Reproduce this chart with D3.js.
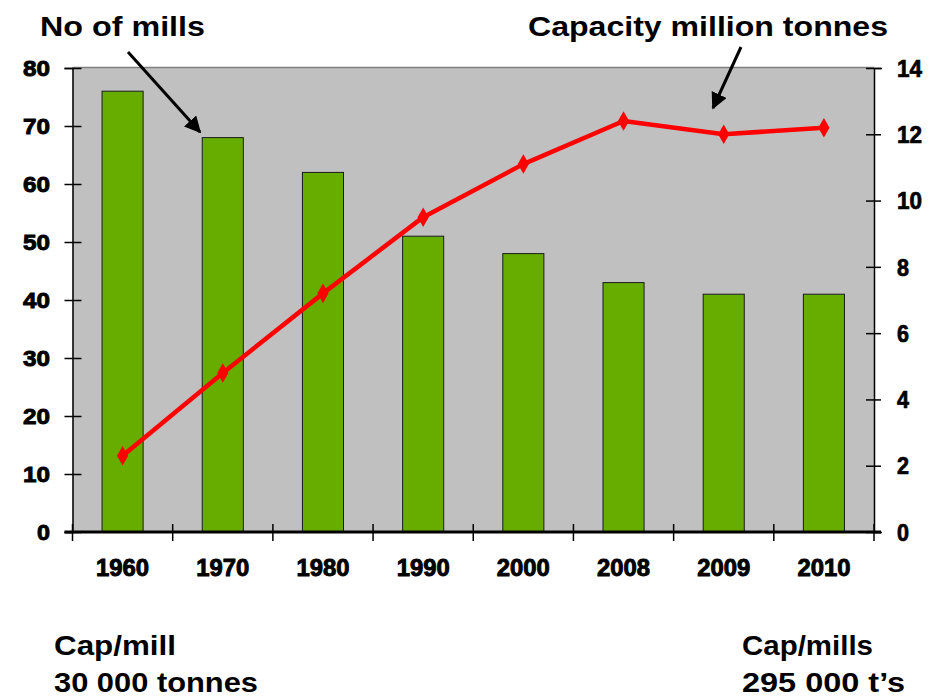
<!DOCTYPE html>
<html><head><meta charset="utf-8">
<script src="https://cdn.jsdelivr.net/npm/d3@7"></script>
<style>body{margin:0;background:#fff}svg{display:block}text{font-family:"Liberation Sans",Arial,sans-serif;font-weight:bold}</style>
</head><body>
<script>
const categories = ["1960","1970","1980","1990","2000","2008","2009","2010"];
const mills = [76, 68, 62, 51, 48, 43, 41, 41];
const capacity = [2.3, 4.8, 7.2, 9.5, 11.1, 12.4, 12.0, 12.2];
const leftTicks = [0,10,20,30,40,50,60,70,80];
const rightTicks = [0,2,4,6,8,10,12,14];

const W = 942, H = 698;
const svg = d3.select("body").append("svg").attr("width", W).attr("height", H);
const L = 72.5, R = 874, T = 68, B = 532;

const x = d3.scaleBand().domain(categories).range([L, R]).paddingInner(0.59).paddingOuter(0.295);
const yL = d3.scaleLinear().domain([0, 80]).range([B, T]);
const yR = d3.scaleLinear().domain([0, 14]).range([B, T]);

// plot background
svg.append("rect").attr("x", L).attr("y", T).attr("width", R - L).attr("height", B - T)
  .attr("fill", "#c0c0c0");
svg.append("line").attr("x1", L).attr("x2", R).attr("y1", T - 0.5).attr("y2", T - 0.5)
  .attr("stroke", "#808080").attr("stroke-width", 1.5);

// bars
svg.selectAll("rect.bar").data(categories).join("rect").attr("class", "bar")
  .attr("x", d => x(d)).attr("width", x.bandwidth())
  .attr("y", (d, i) => yL(mills[i])).attr("height", (d, i) => B - yL(mills[i]))
  .attr("fill", "#66ad00").attr("stroke", "#1a1a1a").attr("stroke-width", 1);

// left axis
const ga = svg.append("g").attr("transform", `translate(${L},0)`)
  .call(d3.axisLeft(yL).tickValues(leftTicks).tickSize(8));
ga.select(".domain").attr("stroke", "#000").attr("stroke-width", 1.5);
ga.selectAll(".tick line").attr("x1", 9).attr("x2", -8).attr("stroke", "#000").attr("stroke-width", 1.5);
ga.selectAll(".tick text").attr("font-size", 22).attr("fill", "#000").attr("x", -22.5)
  .attr("text-anchor", "end")
  .attr("stroke", "#000").attr("stroke-width", 0.9).attr("dy", "0.36em")
  .attr("textLength", d => d === 0 ? 13 : 27).attr("lengthAdjust", "spacingAndGlyphs");

// right axis
const gr = svg.append("g").attr("transform", `translate(${R},0)`)
  .call(d3.axisRight(yR).tickValues(rightTicks).tickSize(8));
gr.select(".domain").attr("stroke", "#000").attr("stroke-width", 1.5);
gr.selectAll(".tick line").attr("x1", -8).attr("x2", 7).attr("stroke", "#000").attr("stroke-width", 1.5);
gr.selectAll(".tick text").attr("font-size", 23).attr("fill", "#000").attr("x", 23)
  .attr("text-anchor", "start")
  .attr("stroke", "#000").attr("stroke-width", 0.7).attr("dy", "0.36em")
  .attr("textLength", d => d >= 10 ? 25 : 12).attr("lengthAdjust", "spacingAndGlyphs");

// bottom axis
const gb = svg.append("g").attr("transform", `translate(0,${B})`)
  .call(d3.axisBottom(x).tickSize(0).tickPadding(28));
gb.select(".domain").remove();
svg.append("line").attr("x1", L - 8).attr("x2", R + 7).attr("y1", B).attr("y2", B)
  .attr("stroke", "#000").attr("stroke-width", 3);
const bounds = categories.map(c => x(c) + x.bandwidth() / 2 - x.step() / 2).concat([R]);
svg.selectAll("line.xt").data(bounds).join("line").attr("class", "xt")
  .attr("x1", d => d).attr("x2", d => d).attr("y1", B - 8).attr("y2", B + 9)
  .attr("stroke", "#000").attr("stroke-width", 1.5);
gb.selectAll(".tick text").attr("font-size", 23).attr("fill", "#000")
  .attr("stroke", "#000").attr("stroke-width", 0.9)
  .attr("textLength", 53).attr("lengthAdjust", "spacingAndGlyphs");

// capacity line
const cx = (d) => x(d) + x.bandwidth() / 2;
const line = d3.line().x((d, i) => cx(categories[i])).y(d => yR(d));
svg.append("path").datum(capacity).attr("d", line).attr("fill", "none")
  .attr("stroke", "#ff0000").attr("stroke-width", 4.5).attr("stroke-linejoin", "round");
svg.selectAll("path.mk").data(capacity).join("path").attr("class", "mk")
  .attr("d", d3.symbol().type(d3.symbolDiamond).size(110))
  .attr("transform", (d, i) => `translate(${cx(categories[i])},${yR(d)})`)
  .attr("fill", "#ff0000");

// annotations
const defs = svg.append("defs");
defs.append("marker").attr("id", "ah").attr("viewBox", "0 0 10 10").attr("refX", 9).attr("refY", 5)
  .attr("markerWidth", 5.5).attr("markerHeight", 5.5).attr("orient", "auto").attr("markerUnits", "strokeWidth")
  .append("path").attr("d", "M0,0 L10,5 L0,10 z").attr("fill", "#000");
svg.append("line").attr("x1", 128).attr("y1", 52).attr("x2", 200).attr("y2", 132)
  .attr("stroke", "#000").attr("stroke-width", 3).attr("marker-end", "url(#ah)");
svg.append("line").attr("x1", 741).attr("y1", 47).attr("x2", 713).attr("y2", 108)
  .attr("stroke", "#000").attr("stroke-width", 3).attr("marker-end", "url(#ah)");

function label(t, xx, yy, len) {
  svg.append("text").attr("x", xx).attr("y", yy).attr("font-size", 28).attr("fill", "#000")
    .attr("textLength", len).attr("lengthAdjust", "spacingAndGlyphs").text(t);
}
label("No of mills", 40, 36, 165);
label("Capacity million tonnes", 528, 36, 360);
label("Cap/mill", 54, 655, 122);
label("30 000 tonnes", 54, 692, 204);
label("Cap/mills", 742, 655, 131);
label("295 000 t\u2019s", 742, 692, 163);
</script>
</body></html>
